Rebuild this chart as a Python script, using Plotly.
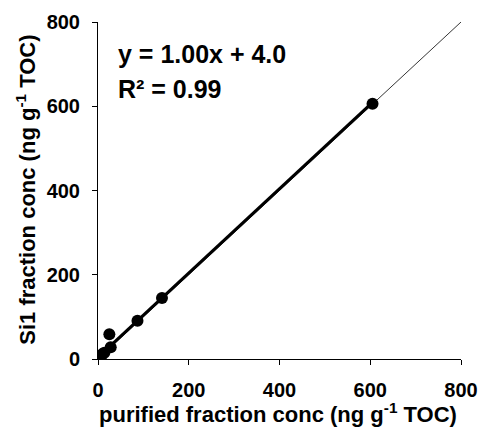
import plotly.graph_objects as go

# Data
x_purified = [0, 2, 4, 7, 10, 14, 25, 28, 87, 141, 605]
y_si1 = [0, 3, 5, 8, 12, 15, 59, 28, 91, 145, 606]
slope = 1.00
intercept = 4.0
fit_x = [0, 605]
one_to_one = [0, 800]
tick_vals = [0, 200, 400, 600, 800]
tick_text = ["<b>%d</b>" % v for v in tick_vals]

FONT = "Arial, Liberation Sans, sans-serif"

fig = go.Figure()

# 1:1 line
fig.add_trace(go.Scatter(x=one_to_one, y=one_to_one, mode="lines",
                         line=dict(color="black", width=0.8), showlegend=False, hoverinfo="skip"))
# regression line
fig.add_trace(go.Scatter(x=fit_x, y=[slope * v + intercept for v in fit_x], mode="lines",
                         line=dict(color="black", width=3), showlegend=False))
# points
fig.add_trace(go.Scatter(x=x_purified, y=y_si1, mode="markers",
                         marker=dict(color="black", size=12), showlegend=False))

fig.update_layout(
    width=480, height=428,
    margin=dict(l=98, r=19, t=22, b=69),
    paper_bgcolor="white", plot_bgcolor="white",
    font=dict(family=FONT, color="black"),
    xaxis=dict(range=[0, 800], tickvals=tick_vals, ticktext=tick_text, showgrid=False, zeroline=False,
               showline=True, linecolor="black", linewidth=1, automargin=False,
               ticks="outside", ticklen=5, tickcolor="black", ticklabelstandoff=8,
               tickfont=dict(size=20, family=FONT)),
    yaxis=dict(range=[0, 800], tickvals=tick_vals, ticktext=tick_text, showgrid=False, zeroline=False,
               showline=True, linecolor="black", linewidth=1, automargin=False,
               ticks="outside", ticklen=5, tickcolor="black", ticklabelstandoff=8,
               tickfont=dict(size=20, family=FONT)),
    annotations=[
        dict(x=40, y=725, xref="x", yref="y", text="<b>y = 1.00x + 4.0</b>", showarrow=False,
             xanchor="left", yanchor="middle", font=dict(size=25, family=FONT)),
        dict(x=40, y=640, xref="x", yref="y", text="<b>R² = 0.99</b>", showarrow=False,
             xanchor="left", yanchor="middle", font=dict(size=25, family=FONT)),
        dict(x=0.4945, y=-0.16, xref="paper", yref="paper",
             text="<b>purified fraction conc (ng g<sup>-1</sup> TOC)</b>", showarrow=False,
             xanchor="center", yanchor="middle", font=dict(size=22, family=FONT)),
        dict(x=-0.199, y=0.5015, xref="paper", yref="paper", textangle=-90,
             text="<b>Si1 fraction conc (ng g<sup>-1</sup> TOC)</b>", showarrow=False,
             xanchor="center", yanchor="middle", font=dict(size=22, family=FONT)),
    ],
)

fig.write_html("out.html")
